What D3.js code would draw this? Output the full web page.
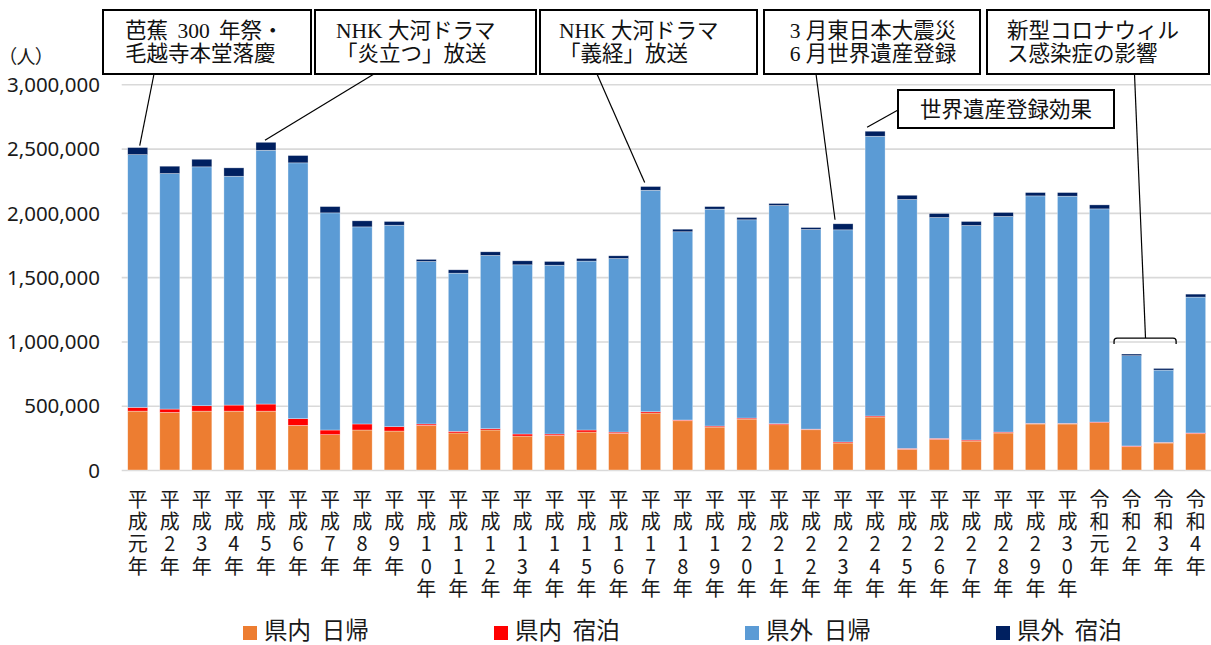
<!DOCTYPE html>
<html lang="ja">
<head>
<meta charset="utf-8">
<script src="https://cdn.jsdelivr.net/npm/d3@7"></script>
<style>
  html, body { margin: 0; padding: 0; background: #fff; }
  svg { display: block; }
  .palt { font-feature-settings: "palt"; }
  .vert { writing-mode: vertical-rl; text-orientation: upright; }
</style>
</head>
<body>
<svg id="chart" width="1211" height="645"></svg>
<script>
// 観光客入込数: 年別・区分別
const categories = [
  "平成元年","平成2年","平成3年","平成4年","平成5年","平成6年","平成7年","平成8年","平成9年",
  "平成10年","平成11年","平成12年","平成13年","平成14年","平成15年","平成16年","平成17年",
  "平成18年","平成19年","平成20年","平成21年","平成22年","平成23年","平成24年","平成25年",
  "平成26年","平成27年","平成28年","平成29年","平成30年","令和元年","令和2年","令和3年","令和4年"
];

const seriesNames = ["県内 日帰", "県内 宿泊", "県外 日帰", "県外 宿泊"];

const inPrefDay = [
  458000, 448000, 458000, 458000, 458000, 347000, 275000, 311000, 303000,
  347000, 288000, 311000, 264000, 269000, 295000, 285000, 443000,
  383000, 334000, 396000, 352000, 313000, 210000, 412000, 161000,
  238000, 225000, 288000, 358000, 358000, 368000, 181000, 210000, 282000
];
const inPrefStay = [
  29000, 26000, 42000, 47000, 55000, 52000, 36000, 47000, 34000,
  11000, 13000, 10000, 16000, 11000, 16000, 10000, 10000,
  6000, 8000, 8000, 8000, 5000, 8000, 8000, 7000,
  8000, 8000, 7000, 5000, 5000, 5000, 6000, 5000, 6000
];
const outPrefDay = [
  1966000, 1832000, 1858000, 1780000, 1974000, 1990000, 1689000, 1533000, 1567000,
  1264000, 1230000, 1348000, 1316000, 1313000, 1314000, 1350000, 1723000,
  1464000, 1687000, 1542000, 1697000, 1553000, 1650000, 2176000, 1936000,
  1718000, 1669000, 1677000, 1769000, 1767000, 1658000, 702000, 562000, 1057000
];
const outPrefStay = [
  55000, 57000, 59000, 65000, 62000, 57000, 49000, 47000, 29000,
  16000, 26000, 28000, 31000, 29000, 20000, 21000, 29000,
  20000, 20000, 18000, 16000, 15000, 47000, 39000, 33000,
  31000, 31000, 31000, 26000, 28000, 31000, 13000, 13000, 23000
];

const yTicks = [0, 500000, 1000000, 1500000, 2000000, 2500000, 3000000];

const colors = ["#ED7D31", "#FF0000", "#5B9BD5", "#002060"];

// Event call-outs: text lines, the year(s) they point at
const notes = [
  { lines: ["芭蕉 300 年祭・", "毛越寺本堂落慶"], year: "平成元年" },
  { lines: ["NHK 大河ドラマ", "「炎立つ」放送"], year: "平成5年" },
  { lines: ["NHK 大河ドラマ", "「義経」放送"], year: "平成17年" },
  { lines: ["3 月東日本大震災", "6 月世界遺産登録"], year: "平成23年" },
  { lines: ["世界遺産登録効果"], year: "平成24年" },
  { lines: ["新型コロナウィル", "ス感染症の影響"], years: ["令和2年", "令和3年"] }
];

// ---------------------------------------------------------------
const svg = d3.select("#chart");

const table = categories.map((c, i) => ({
  year: c,
  [seriesNames[0]]: inPrefDay[i],
  [seriesNames[1]]: inPrefStay[i],
  [seriesNames[2]]: outPrefDay[i],
  [seriesNames[3]]: outPrefStay[i]
}));
const totals = new Map(table.map(d => [d.year, seriesNames.reduce((s, k) => s + d[k], 0)]));

const x = d3.scaleBand()
  .domain(categories)
  .range([121.7, 1211.7])
  .paddingInner(0.376)
  .paddingOuter(0.188);

const y = d3.scaleLinear()
  .domain([0, 3000000])
  .range([470, 84.3]);

const sansNum = "'Noto Sans', 'Noto Sans CJK JP', sans-serif";
const sansJP = "'Noto Sans CJK JP', 'Noto Sans', sans-serif";
const serifJP = "'Liberation Serif', 'Noto Sans CJK JP', serif";

// gridlines + y labels
const yAxis = d3.axisLeft(y)
  .tickValues(yTicks)
  .tickSize(-(1211 - 121.7))
  .tickPadding(21.7)
  .tickFormat(d3.format(","));

svg.append("g")
  .attr("transform", "translate(121.7,0)")
  .call(yAxis)
  .call(g => g.select(".domain").remove())
  .call(g => g.selectAll(".tick line").attr("stroke", "#d9d9d9").attr("stroke-width", 1.6))
  .call(g => g.selectAll(".tick text")
    .attr("fill", "#1a1a1a")
    .attr("font-family", sansNum)
    .attr("font-size", 20.5)
    .attr("dy", "0.35em"));

// unit label
svg.append("text")
  .attr("class", "palt")
  .attr("x", 7)
  .attr("y", 64)
  .attr("font-family", sansJP)
  .attr("font-size", 19)
  .attr("fill", "#1a1a1a")
  .text("（人）");

// stacked bars
const stacked = d3.stack().keys(seriesNames)(table);

svg.append("g")
  .selectAll("g")
  .data(stacked)
  .join("g")
  .attr("fill", (d, i) => colors[i])
  .selectAll("rect")
  .data(d => d)
  .join("rect")
  .attr("x", d => x(d.data.year))
  .attr("width", x.bandwidth())
  .attr("y", d => y(d[1]))
  .attr("height", d => y(d[0]) - y(d[1]))
  .attr("stroke", "rgba(255,255,255,0.55)")
  .attr("stroke-width", 0.6);

// x labels, set vertically (one upright character per row)
svg.append("g")
  .attr("font-family", sansJP)
  .attr("font-size", 20)
  .attr("fill", "#1a1a1a")
  .selectAll("text")
  .data(categories)
  .join("text")
  .attr("class", "vert")
  .attr("x", d => x(d) + x.bandwidth() / 2)
  .attr("y", 489)
  .attr("letter-spacing", 2.4)
  .text(d => d);

// legend
const legendX = [243, 494, 745, 996];
const legend = svg.append("g");
seriesNames.forEach((name, i) => {
  legend.append("rect")
    .attr("x", legendX[i])
    .attr("y", 626)
    .attr("width", 14)
    .attr("height", 14)
    .attr("fill", colors[i]);
  legend.append("text")
    .attr("x", legendX[i] + 21)
    .attr("y", 639)
    .attr("font-family", sansJP)
    .attr("font-size", 23.5)
    .attr("word-spacing", 5.5)
    .attr("fill", "#1a1a1a")
    .text(name);
});

// call-out boxes
const boxes = [
  { x0: 103, x1: 311, y0: 10, y1: 74, tx: 125, anchor: "start", ws: 4 },
  { x0: 315, x1: 536, y0: 10, y1: 74, tx: 336, anchor: "start", ws: 0 },
  { x0: 540, x1: 757, y0: 10, y1: 74, tx: 559, anchor: "start", ws: 0 },
  { x0: 764, x1: 980, y0: 10, y1: 74, tx: 873, anchor: "middle", ws: 0 },
  { x0: 898, x1: 1114, y0: 90, y1: 128, tx: 1006, anchor: "middle", ws: 0 },
  { x0: 987, x1: 1209, y0: 10, y1: 74, tx: 1007, anchor: "start", ws: 0 }
];

// leader-line anchors on each box
const from = [
  [154, 74], [374, 74], [597, 74], [816, 74], [898, 110], [1134.5, 74]
];
// offsets from the top centre of the bar being pointed at
const toOffset = [[2, -2], [-1, -2], [-6, -4], [-8, -4], [-8, -4]];

const ann = svg.append("g");

notes.forEach((n, i) => {
  const b = boxes[i];
  let tx, ty;
  if (n.year) {
    tx = x(n.year) + x.bandwidth() / 2 + toOffset[i][0];
    ty = y(totals.get(n.year)) + toOffset[i][1];
  } else {
    // bracket over a run of bars
    const first = n.years[0], last = n.years[n.years.length - 1];
    const top = d3.max(n.years, yr => totals.get(yr));
    const bx0 = x(first) - 7.5;
    const bx1 = x(last) + x.bandwidth() + 2.5;
    const by = y(top) - 16;
    const r = 3;
    ann.append("path")
      .attr("d", `M${bx0},${by + 6} L${bx0},${by + r} Q${bx0},${by} ${bx0 + r},${by} ` +
                 `L${bx1 - r},${by} Q${bx1},${by} ${bx1},${by + r} L${bx1},${by + 6}`)
      .attr("fill", "none")
      .attr("stroke", "#000")
      .attr("stroke-width", 1.3);
    tx = from[i][0] + 11;
    ty = by;
  }
  ann.append("line")
    .attr("x1", from[i][0]).attr("y1", from[i][1])
    .attr("x2", tx).attr("y2", ty)
    .attr("stroke", "#000")
    .attr("stroke-width", 1.2);

  ann.append("rect")
    .attr("x", b.x0).attr("y", b.y0)
    .attr("width", b.x1 - b.x0).attr("height", b.y1 - b.y0)
    .attr("fill", "#fff")
    .attr("stroke", "#000")
    .attr("stroke-width", 2);

  const midY = (b.y0 + b.y1) / 2;
  const lh = 23.3;
  const t = ann.append("text")
    .attr("x", b.tx)
    .attr("y", midY - (n.lines.length - 1) / 2 * lh + 7.5)
    .attr("text-anchor", b.anchor)
    .attr("font-family", serifJP)
    .attr("font-size", 21.5)
    .attr("word-spacing", b.ws)
    .attr("fill", "#111");
  n.lines.forEach((ln, k) => {
    t.append("tspan")
      .attr("x", b.tx)
      .attr("dy", k === 0 ? 0 : lh)
      .text(ln);
  });
});
</script>
</body>
</html>
